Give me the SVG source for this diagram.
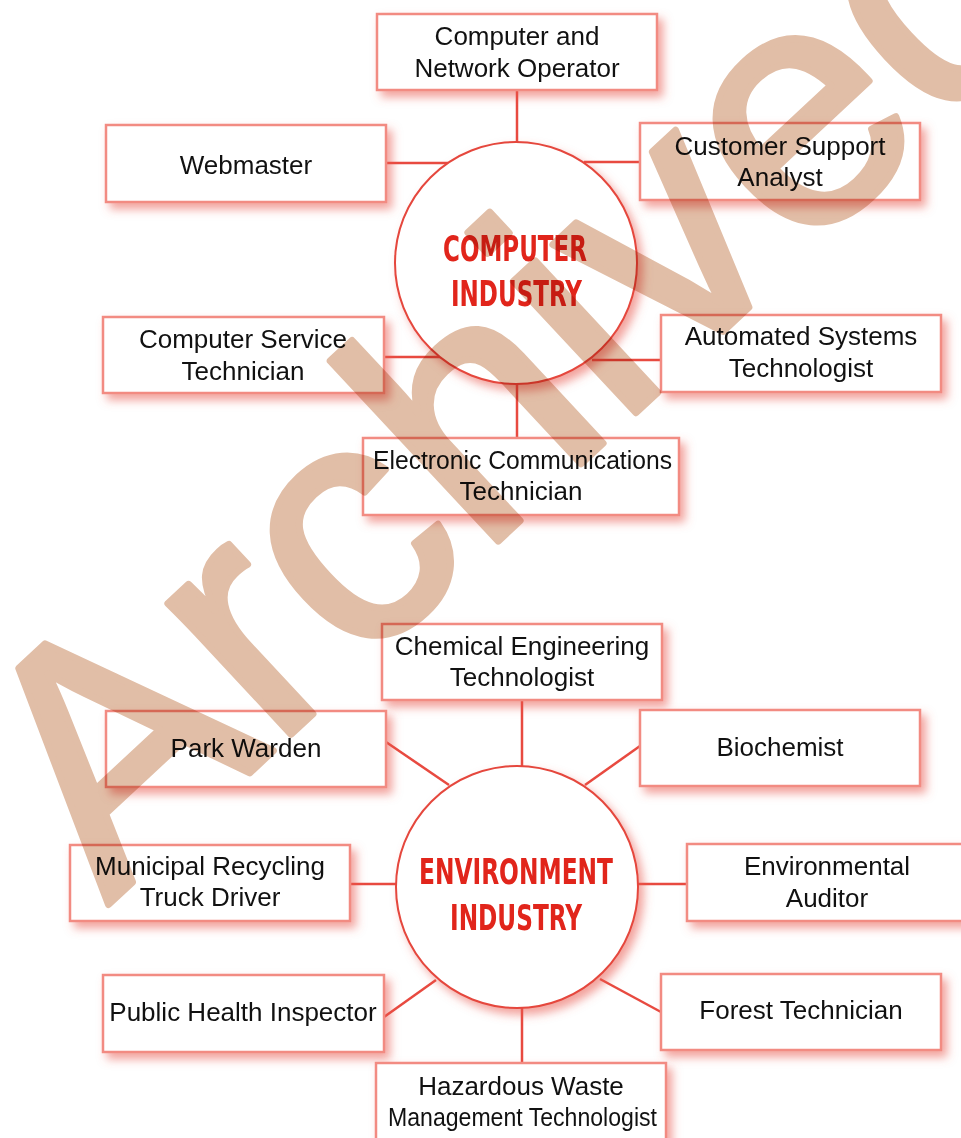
<svg xmlns="http://www.w3.org/2000/svg" width="961" height="1138" viewBox="0 0 961 1138">
<defs>
<filter id="glow" x="-20%" y="-30%" width="140%" height="160%">
<feDropShadow dx="5" dy="6" stdDeviation="5" flood-color="#e8554d" flood-opacity="0.55"/>
</filter>
<style>
.box{fill:#fff;stroke:#f28b82;stroke-width:2.5;filter:url(#glow)}
.hub{fill:#fff;stroke:#e5473d;stroke-width:2;filter:url(#glow)}
.lbl{font-family:"Liberation Sans",Arial,sans-serif;font-size:26px;fill:#111;text-anchor:middle}
.lbl2{font-family:"Liberation Sans",Arial,sans-serif;font-size:26px;fill:#111}
.hubt{font-family:"Liberation Sans Narrow","DejaVu Sans Condensed","Liberation Sans",sans-serif;font-weight:bold;font-size:36px;fill:#e1251b}
.con{stroke:#e84a40;stroke-width:2.5;fill:none}
.wm{font-family:"Liberation Sans",Arial,sans-serif;font-size:340px;fill:#e1bea7;stroke:#e1bea7;stroke-width:7;stroke-linejoin:round}
</style>
</defs>
<rect width="961" height="1138" fill="#fff"/>
<g id="connectors">
<path class="con" d="M517,90V142"/>
<path class="con" d="M386,163H448"/>
<path class="con" d="M584,162H640"/>
<path class="con" d="M384,357H441"/>
<path class="con" d="M592,360H661"/>
<path class="con" d="M517,384V438"/>
<path class="con" d="M522,700V767"/>
<path class="con" d="M386,742L449,785"/>
<path class="con" d="M640,746L585,785"/>
<path class="con" d="M350,884H396"/>
<path class="con" d="M637,884H687"/>
<path class="con" d="M384,1017L436,980"/>
<path class="con" d="M661,1012L600,979"/>
<path class="con" d="M522,1008V1063"/>
</g>
<g id="hub-computer">
<circle class="hub" cx="516" cy="263" r="121"/>
<text class="hubt" x="443" y="261" textLength="144" lengthAdjust="spacingAndGlyphs">COMPUTER</text>
<text class="hubt" x="451" y="306" textLength="131" lengthAdjust="spacingAndGlyphs">INDUSTRY</text>
</g>
<g id="hub-environment">
<circle class="hub" cx="517" cy="887" r="121"/>
<text class="hubt" x="419" y="884" textLength="194" lengthAdjust="spacingAndGlyphs">ENVIRONMENT</text>
<text class="hubt" x="450" y="930" textLength="132" lengthAdjust="spacingAndGlyphs">INDUSTRY</text>
</g>
<g id="n-network-operator">
<rect class="box" x="377" y="14" width="280" height="76"/>
<text class="lbl" x="517" y="45">Computer and</text>
<text class="lbl" x="517" y="77">Network Operator</text>
</g>
<g id="n-webmaster">
<rect class="box" x="106" y="125" width="280" height="77"/>
<text class="lbl" x="246" y="174">Webmaster</text>
</g>
<g id="n-customer-support">
<rect class="box" x="640" y="123" width="280" height="77"/>
<text class="lbl" x="780" y="155">Customer Support</text>
<text class="lbl" x="780" y="186">Analyst</text>
</g>
<g id="n-service-tech">
<rect class="box" x="103" y="317" width="281" height="76"/>
<text class="lbl" x="243" y="348">Computer Service</text>
<text class="lbl" x="243" y="380">Technician</text>
</g>
<g id="n-automated">
<rect class="box" x="661" y="315" width="280" height="77"/>
<text class="lbl" x="801" y="345">Automated Systems</text>
<text class="lbl" x="801" y="377">Technologist</text>
</g>
<g id="n-electronic">
<rect class="box" x="363" y="438" width="316" height="77"/>
<text class="lbl2" x="373" y="469" textLength="299" lengthAdjust="spacingAndGlyphs">Electronic Communications</text>
<text class="lbl" x="521" y="500">Technician</text>
</g>
<g id="n-chemical">
<rect class="box" x="382" y="624" width="280" height="76"/>
<text class="lbl" x="522" y="655">Chemical Engineering</text>
<text class="lbl" x="522" y="686">Technologist</text>
</g>
<g id="n-park-warden">
<rect class="box" x="106" y="711" width="280" height="76"/>
<text class="lbl" x="246" y="757">Park Warden</text>
</g>
<g id="n-biochemist">
<rect class="box" x="640" y="710" width="280" height="76"/>
<text class="lbl" x="780" y="756">Biochemist</text>
</g>
<g id="n-recycling">
<rect class="box" x="70" y="845" width="280" height="76"/>
<text class="lbl" x="210" y="875">Municipal Recycling</text>
<text class="lbl" x="210" y="906">Truck Driver</text>
</g>
<g id="n-auditor">
<rect class="box" x="687" y="844" width="280" height="77"/>
<text class="lbl" x="827" y="875">Environmental</text>
<text class="lbl" x="827" y="907">Auditor</text>
</g>
<g id="n-public-health">
<rect class="box" x="103" y="975" width="281" height="77"/>
<text class="lbl" x="243" y="1021">Public Health Inspector</text>
</g>
<g id="n-forest">
<rect class="box" x="661" y="974" width="280" height="76"/>
<text class="lbl" x="801" y="1019">Forest Technician</text>
</g>
<g id="n-hazardous">
<rect class="box" x="376" y="1063" width="290" height="80"/>
<text class="lbl" x="521" y="1095">Hazardous Waste</text>
<text class="lbl2" x="388" y="1126" textLength="269" lengthAdjust="spacingAndGlyphs">Management Technologist</text>
</g>
<g id="watermark" style="mix-blend-mode:multiply">
<text class="wm" transform="translate(108,905) rotate(-43)">Archived</text>
</g>
</svg>
